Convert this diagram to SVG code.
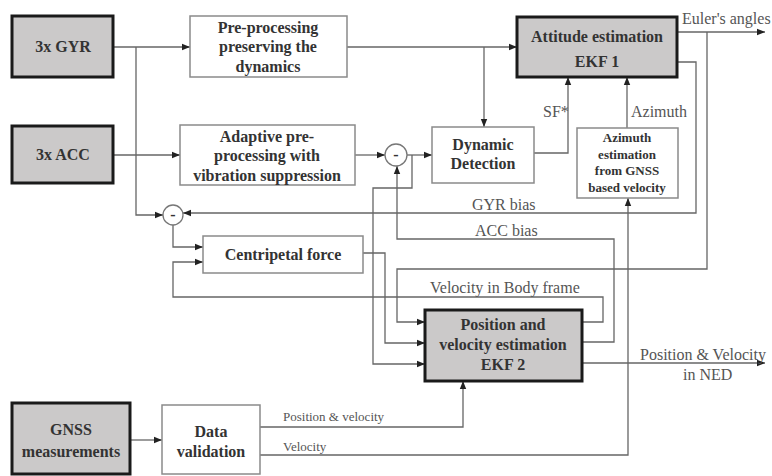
<svg xmlns="http://www.w3.org/2000/svg" width="772" height="476" viewBox="0 0 772 476">
<defs>
<marker id="ah" viewBox="0 0 10 10" refX="10" refY="5" markerWidth="9" markerHeight="8" markerUnits="userSpaceOnUse" orient="auto"><path d="M0,1 L10,5 L0,9 z" fill="#222"/></marker>
<style>
.gray{fill:#cbc9c9;stroke:#1a1a1a;stroke-width:3}
.white{fill:#fff;stroke:#8a8a8a;stroke-width:1.5}
.sum{fill:#fff;stroke:#777;stroke-width:1.3}
.bt{font-family:"Liberation Serif",serif;font-weight:bold;font-size:16px;fill:#333;text-anchor:middle}
.st{font-family:"Liberation Serif",serif;font-weight:bold;font-size:13px;fill:#333;text-anchor:middle}
.lb{font-family:"Liberation Serif",serif;font-size:16px;fill:#555}
.sl{font-family:"Liberation Serif",serif;font-size:13px;fill:#555}
#connectors path{fill:none;stroke:#666;stroke-width:1.3}
</style>
</defs>
<rect width="772" height="476" fill="#fff"/>
<g id="connectors">
<path d="M113,47 H190" marker-end="url(#ah)"/>
<path d="M136,47 V215 H163" marker-end="url(#ah)"/>
<path d="M113,155 H180" marker-end="url(#ah)"/>
<path d="M355,155 H385" marker-end="url(#ah)"/>
<path d="M407,155 H432" marker-end="url(#ah)"/>
<path d="M347,47 H517" marker-end="url(#ah)"/>
<path d="M484,47 V127" marker-end="url(#ah)"/>
<path d="M534,153 H568 V77" marker-end="url(#ah)"/>
<path d="M627,128 V77" marker-end="url(#ah)"/>
<path d="M677,32 H765" marker-end="url(#ah)"/>
<path d="M677,62 H696 V213 H183" marker-end="url(#ah)"/>
<path d="M707,32 V269 H397 V322 H425" marker-end="url(#ah)"/>
<path d="M582,342 H614 V239 H397 V166" marker-end="url(#ah)"/>
<path d="M412,155 V188 H373 V364 H425" marker-end="url(#ah)"/>
<path d="M363,253 H385 V343 H425" marker-end="url(#ah)"/>
<path d="M173,225 V247 H203" marker-end="url(#ah)"/>
<path d="M582,322 H603 V297 H173 V262 H203" marker-end="url(#ah)"/>
<path d="M582,363 H765" marker-end="url(#ah)"/>
<path d="M130,440 H162" marker-end="url(#ah)"/>
<path d="M260,427 H463 V381" marker-end="url(#ah)"/>
<path d="M260,455 H628 V198" marker-end="url(#ah)"/>
</g>
<g id="labels">
<text class="lb" x="543" y="117">SF*</text>
<text class="lb" x="631" y="117">Azimuth</text>
<text class="lb" x="682" y="24">Euler's angles</text>
<text class="lb" x="472" y="210">GYR bias</text>
<text class="lb" x="475" y="236">ACC bias</text>
<text class="lb" x="430" y="293">Velocity in Body frame</text>
<text class="lb" x="640" y="360">Position &amp; Velocity</text>
<text class="lb" x="683" y="380">in NED</text>
<text class="sl" x="283" y="421">Position &amp; velocity</text>
<text class="sl" x="283" y="451">Velocity</text>
</g>
<g id="gyr"><rect class="gray" x="12" y="16" width="101" height="61"/><text class="bt" x="63" y="52">3x GYR</text></g>
<g id="pre"><rect class="white" x="190" y="16" width="157" height="61"/><text class="bt" x="268" y="33">Pre-processing</text><text class="bt" x="268" y="52">preserving the</text><text class="bt" x="268" y="72">dynamics</text></g>
<g id="acc"><rect class="gray" x="12" y="126" width="101" height="57"/><text class="bt" x="63" y="160">3x ACC</text></g>
<g id="adapt"><rect class="white" x="180" y="125" width="175" height="60"/><text class="bt" x="267" y="142">Adaptive pre-</text><text class="bt" x="267" y="161">processing with</text><text class="bt" x="267" y="181">vibration suppression</text></g>
<g id="sum1"><circle class="sum" cx="396" cy="155" r="11"/><text class="bt" x="396" y="160">-</text></g>
<g id="dd"><rect class="white" x="432" y="127" width="102" height="56"/><text class="bt" x="483" y="150">Dynamic</text><text class="bt" x="483" y="169">Detection</text></g>
<g id="ekf1"><rect class="gray" x="517" y="17" width="160" height="60"/><text class="bt" x="597" y="42">Attitude estimation</text><text class="bt" x="597" y="67">EKF 1</text></g>
<g id="az"><rect class="white" x="577" y="128" width="101" height="70"/><text class="st" x="627" y="142">Azimuth</text><text class="st" x="627" y="159">estimation</text><text class="st" x="627" y="175">from GNSS</text><text class="st" x="627" y="192">based velocity</text></g>
<g id="sum2"><circle class="sum" cx="173" cy="215" r="10"/><text class="bt" x="173" y="220">-</text></g>
<g id="cf"><rect class="white" x="203" y="236" width="160" height="37"/><text class="bt" x="283" y="260">Centripetal force</text></g>
<g id="ekf2"><rect class="gray" x="425" y="310" width="157" height="71"/><text class="bt" x="503" y="330">Position and</text><text class="bt" x="503" y="350">velocity estimation</text><text class="bt" x="503" y="370">EKF 2</text></g>
<g id="gnss"><rect class="gray" x="12" y="403" width="118" height="71"/><text class="bt" x="71" y="435">GNSS</text><text class="bt" x="71" y="457">measurements</text></g>
<g id="dv"><rect class="white" x="162" y="405" width="98" height="69"/><text class="bt" x="211" y="437">Data</text><text class="bt" x="211" y="457">validation</text></g>
</svg>
